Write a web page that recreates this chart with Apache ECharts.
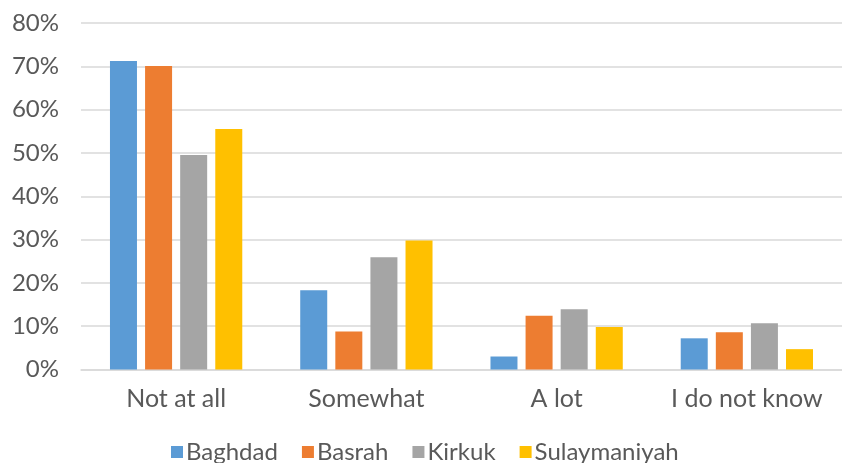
<!DOCTYPE html>
<html>
<head>
<meta charset="utf-8">
<script src="https://cdn.jsdelivr.net/npm/echarts@6/dist/echarts.min.js"></script>
<style>
  html, body { margin: 0; padding: 0; background: #fff; }
  #main { width: 842px; height: 463px; }
</style>
</head>
<body>
<div id="main"></div>
<script>
const categories = ['Not at all', 'Somewhat', 'A lot', 'I do not know'];
const baghdad = [71.2, 18.3, 3.0, 7.2];
const basrah = [70.1, 8.8, 12.4, 8.6];
const kirkuk = [49.5, 25.9, 13.9, 10.7];
const sulaymaniyah = [55.5, 29.8, 9.8, 4.7];

const myChart = echarts.init(document.getElementById('main'));
const font = 'Lato';
const textColor = '#595959';

function bar(name, data, color) {
  return {
    name: name,
    type: 'bar',
    data: data,
    barWidth: 27,
    barGap: '30%',
    itemStyle: { color: color },
    emphasis: { disabled: true }
  };
}

myChart.setOption({
  animation: false,
  legend: {
    top: 435,
    left: 166,
    itemWidth: 12,
    itemHeight: 12,
    itemGap: 24,
    icon: 'rect',
    textStyle: { fontFamily: font, fontSize: 24, color: textColor, padding: [0, 0, 0, -2] }
  },
  grid: { left: 81, right: 0, top: 23, bottom: 93.5 },
  xAxis: {
    type: 'category',
    data: categories,
    axisLine: { lineStyle: { color: '#D9D9D9', width: 1.5 } },
    axisTick: { show: false },
    axisLabel: { interval: 0, fontFamily: font, fontSize: 25, color: textColor, margin: 17 }
  },
  yAxis: {
    type: 'value',
    min: 0,
    max: 80,
    interval: 10,
    axisLine: { show: false },
    axisTick: { show: false },
    splitLine: { lineStyle: { color: '#D9D9D9', width: 1.5 } },
    axisLabel: { fontFamily: font, fontSize: 24, color: textColor, margin: 22, formatter: '{value}%' }
  },
  series: [
    bar('Baghdad', baghdad, '#5B9BD5'),
    bar('Basrah', basrah, '#ED7D31'),
    bar('Kirkuk', kirkuk, '#A5A5A5'),
    bar('Sulaymaniyah', sulaymaniyah, '#FFC000')
  ]
});
</script>
</body>
</html>
